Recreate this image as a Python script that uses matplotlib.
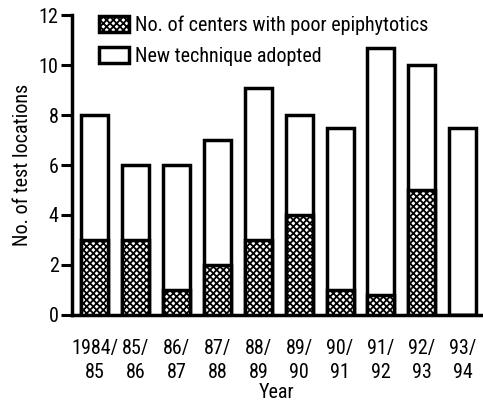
import matplotlib.pyplot as plt
import numpy as np

# values
years = ['1984/\n85', '85/\n86', '86/\n87', '87/\n88', '88/\n89',
         '89/\n90', '90/\n91', '91/\n92', '92/\n93', '93/\n94']
total_adopted = [8, 6, 6, 7, 9.1, 8, 7.5, 10.7, 10, 7.5]
poor_epiphytotics = [3, 3, 1, 2, 3, 4, 1, 0.8, 5, 0]

plt.rcParams['font.family'] = ['Roboto Condensed', 'Roboto', 'DejaVu Sans']
plt.rcParams['hatch.linewidth'] = 1.3

fig = plt.figure(figsize=(4.83, 4.09), dpi=100)
ax = fig.add_axes([0.15, 0.23, 0.846, 0.733])

x = np.arange(len(years))
w = 0.66
ax.bar(x, total_adopted, width=w, color='white', edgecolor='black',
       linewidth=2.5, label='New technique adopted', zorder=2)
ax.bar(x, poor_epiphytotics, width=w, color='white', edgecolor='black',
       linewidth=2.5, hatch='xxxxx', label='No. of centers with poor epiphytotics',
       zorder=3)

fs = 14.5
ax.set_ylim(0, 12)
ax.set_xlim(-0.55, 9.45)
ax.set_yticks(range(0, 13, 2))
ax.set_xticks(x)
ax.set_xticklabels(years, fontsize=fs, linespacing=1.35)
ax.tick_params(axis='x', length=0, pad=17)
ax.tick_params(axis='y', length=8, width=2.2, labelsize=fs, pad=2)
for s in ['top', 'right']:
    ax.spines[s].set_visible(False)
for s in ['left', 'bottom']:
    ax.spines[s].set_linewidth(2.5)

ax.set_ylabel('No. of test locations', fontsize=fs, labelpad=5)
ax.set_xlabel('Year', fontsize=fs, labelpad=1)

h, l = ax.get_legend_handles_labels()
ax.legend(h[::-1], l[::-1], loc='upper left', bbox_to_anchor=(0.03, 1.045),
          frameon=False, fontsize=fs, handlelength=1.5, handleheight=0.85,
          handletextpad=0.3, labelspacing=0.6, borderpad=0.2)

fig.savefig('out.png', dpi=100)
